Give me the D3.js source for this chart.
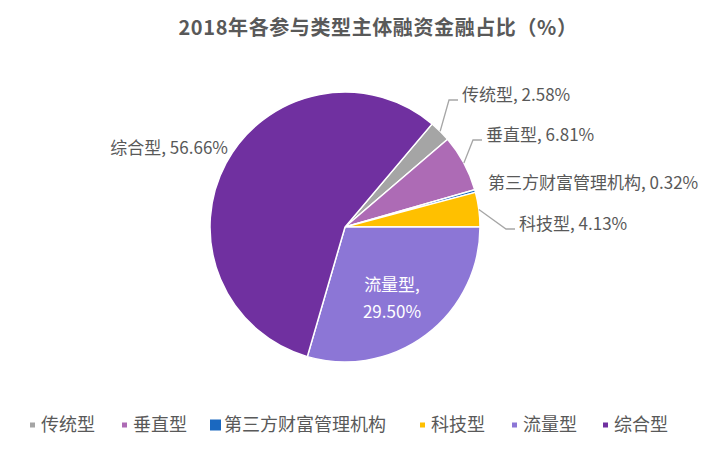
<!DOCTYPE html>
<html>
<head>
<meta charset="utf-8">
<script src="https://cdn.jsdelivr.net/npm/d3@7"></script>
<style>
  body { margin: 0; background: #fff; }
  text { font-family: "Noto Sans CJK SC", "Noto Sans", sans-serif; }
</style>
</head>
<body>
<div id="chart"></div>
<script>
// data
var categories = ["传统型", "垂直型", "第三方财富管理机构", "科技型", "流量型", "综合型"];
var shares = [2.58, 6.81, 0.32, 4.13, 29.50, 56.66];
var colors = ["#a5a5a5", "#ad6bb5", "#1a68c0", "#ffc000", "#8c76d6", "#7030a0"];

var width = 728, height = 455;
var cx = 345, cy = 227, radius = 135;

var svg = d3.select("#chart").append("svg")
    .attr("width", width)
    .attr("height", height);

svg.append("text")
    .attr("x", 378)
    .attr("y", 35)
    .attr("text-anchor", "middle")
    .style("font-size", "20px")
    .style("font-weight", "bold")
    .style("letter-spacing", "0.6px")
    .style("fill", "#595959")
    .text("2018年各参与类型主体融资金融占比（%）");

// first slice angle so that 流量型 starts at 3 o'clock
var pie = d3.pie()
    .sort(null)
    .value(d => d)
    .startAngle(0.7013)
    .endAngle(0.7013 + 2 * Math.PI);

var arc = d3.arc().innerRadius(0).outerRadius(radius);
var arcs = pie(shares);

var g = svg.append("g").attr("transform", `translate(${cx},${cy})`);

g.selectAll("path")
    .data(arcs)
    .join("path")
    .attr("d", arc)
    .attr("fill", (d, i) => colors[i])
    .attr("stroke", "white")
    .attr("stroke-width", 1.5);

// label layout (absolute page coords), side = text anchor
var labelLayout = [
    {x: 462, y: 95, anchor: "start", line: true},
    {x: 486, y: 135, anchor: "start", line: true},
    {x: 488, y: 183, anchor: "start", line: false},
    {x: 519, y: 224, anchor: "start", line: true},
    {x: 392, y: 285, anchor: "middle", line: false, inside: true},
    {x: 228, y: 148, anchor: "end", line: false}
];

var labels = svg.append("g");

arcs.forEach(function(d, i) {
    var L = labelLayout[i];
    var txt = categories[i] + ", " + shares[i].toFixed(2) + "%";
    if (L.line) {
        var mid = (d.startAngle + d.endAngle) / 2;
        var sx = cx + radius * Math.sin(mid),
            sy = cy - radius * Math.cos(mid);
        var ey = L.y + 5;
        labels.append("polyline")
            .attr("points", [[sx, sy], [L.x - 13, ey], [L.x - 4, ey]].map(p => p.join(",")).join(" "))
            .attr("fill", "none")
            .attr("stroke", "#a6a6a6")
            .attr("stroke-width", 1.3);
    }
    if (L.inside) {
        var t = labels.append("text")
            .attr("text-anchor", "middle")
            .style("font-size", "17px")
            .style("fill", "#ffffff");
        t.append("tspan").attr("x", L.x).attr("y", L.y + 6).text(categories[i] + ",");
        t.append("tspan").attr("x", L.x).attr("y", L.y + 33).text(shares[i].toFixed(2) + "%");
    } else {
        labels.append("text")
            .attr("x", L.x)
            .attr("y", L.y)
            .attr("dy", "0.35em")
            .attr("text-anchor", L.anchor)
            .style("font-size", "17px")
            .style("fill", "#595959")
            .text(txt);
    }
});

// legend
var legendX = [30, 122, 210, 420, 512, 603];
var legend = svg.append("g");
categories.forEach(function(c, i) {
    var big = i === 2;
    var s = big ? 11 : 5;
    legend.append("rect")
        .attr("x", legendX[i])
        .attr("y", 425 - s / 2)
        .attr("width", s)
        .attr("height", s)
        .attr("fill", colors[i]);
    legend.append("text")
        .attr("x", legendX[i] + s + (big ? 3 : 6))
        .attr("y", 425)
        .attr("dy", "0.35em")
        .style("font-size", "18px")
        .style("fill", "#595959")
        .text(c);
});
</script>
</body>
</html>
